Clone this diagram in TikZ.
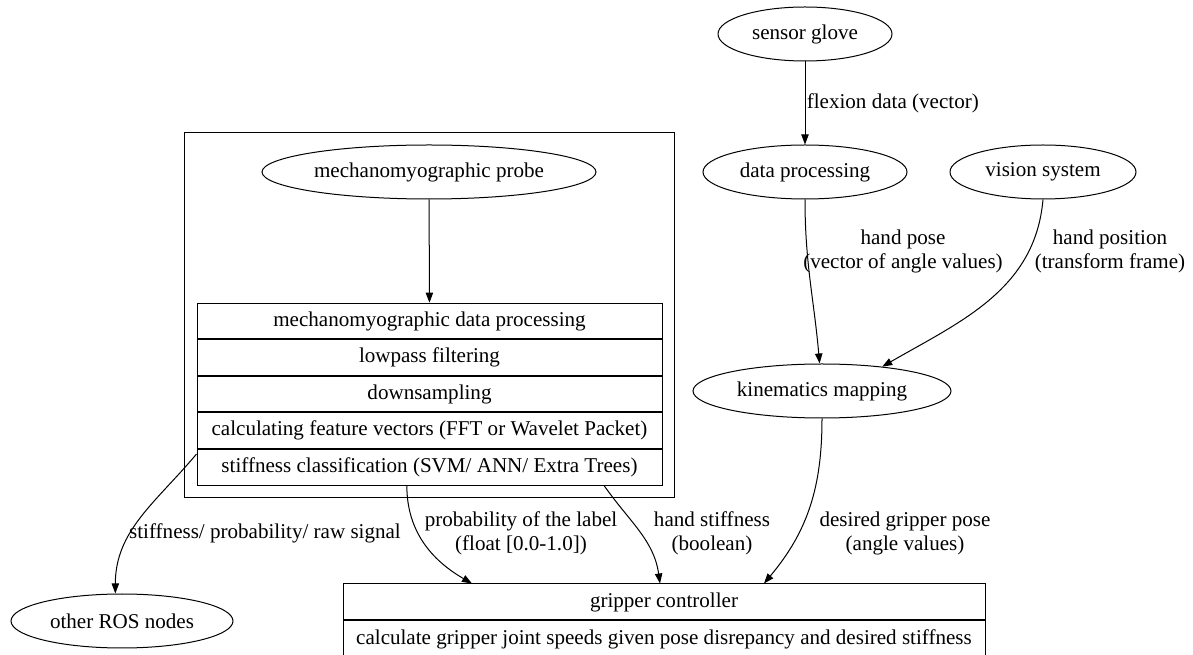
\documentclass[tikz,border=0pt]{standalone}
\usepackage{fontspec}
\setmainfont{Liberation Serif}
\usepackage{tikz}
\usetikzlibrary{arrows.meta,positioning,shapes.geometric,fit}

\begin{document}
\begin{tikzpicture}[
    x=0.75pt, y=0.75pt,
    >={Triangle[length=7.5pt, width=5.5pt]},
    font=\fontsize{15.8}{18}\selectfont,
    oval/.style={draw, ellipse, inner sep=0pt, minimum height=40.5pt, line width=0.75pt},
    field/.style={draw, rectangle, inner sep=0pt, minimum width=348.75pt, minimum height=26.7pt, line width=0.75pt},
    ctrlfield/.style={field, minimum width=481.5pt, minimum height=27pt},
    cluster/.style={draw, rectangle, inner sep=9pt, line width=0.75pt},
    elabel/.style={align=center, inner sep=0pt},
    link/.style={->, line width=0.75pt}
]
\useasboundingbox (0,0) rectangle (1193,-655);

% glove and vision side
\node[oval, minimum width=153pt] (dataproc) at (805,-172) {data processing};
\node[oval, minimum width=130.5pt, above=62.25pt of dataproc] (glove) {sensor glove};
\node[oval, minimum width=139.5pt, right=31.5pt of dataproc] (vision) {vision system};
\node[oval, minimum width=193.5pt] (kin) at (822,-391) {kinematics mapping};

% mechanomyography cluster
\node[oval, minimum width=250.5pt] (mmgprobe) at (429,-172) {mechanomyographic probe};
\node[field] (mmgdata) at (429.5,-321) {mechanomyographic data processing};
\node[field, below=0pt of mmgdata] (lowpass) {lowpass filtering};
\node[field, below=0pt of lowpass] (downsample) {downsampling};
\node[field, below=0pt of downsample] (features) {calculating feature vectors (FFT or Wavelet Packet)};
\node[field, below=0pt of features] (stiff) {stiffness classification (SVM/ ANN/ Extra Trees)};
\node[cluster, fit=(mmgprobe)(mmgdata)(stiff)] (mmgcluster) {};

% outputs
\node[ctrlfield] (gripper) at (664,-602) {gripper controller};
\node[ctrlfield, below=0pt of gripper] (gripcalc) {calculate gripper joint speeds given pose disrepancy and desired stiffness};
\node[oval, minimum width=166.5pt] (rosnodes) at (122,-621) {other ROS nodes};

\draw[link] (glove) -- (dataproc) node[elabel, midway, right=1pt] {flexion data (vector)};
\draw[link] (dataproc.south) to[out=-90, in=95] (kin.95)
    node[elabel] at (903,-251) {hand pose\\(vector of angle values)};
\draw[link] (vision.south) to[out=-95, in=30] (kin.22)
    node[elabel] at (1110,-251) {hand position\\(transform frame)};
\draw[link] (mmgprobe) -- (mmgdata);
\draw[link] ([yshift=10pt]stiff.west) to[out=-130, in=90] ([xshift=-5pt]rosnodes.north)
    node[elabel] at (265,-533) {stiffness/ probability/ raw signal};
\draw[link] ([xshift=-17pt]stiff.south) to[out=-90, in=150] ([xshift=-144pt]gripper.north)
    node[elabel] at (521,-533) {probability of the label\\(float [0.0-1.0])};
\draw[link] ([xshift=131pt]stiff.south) to[out=-55, in=98] ([xshift=-3pt]gripper.north)
    node[elabel] at (712,-533) {hand stiffness\\(boolean)};
\draw[link] (kin.south) to[out=-90, in=50] ([xshift=75pt]gripper.north)
    node[elabel] at (905,-533) {desired gripper pose\\(angle values)};
\end{tikzpicture}
\end{document}
